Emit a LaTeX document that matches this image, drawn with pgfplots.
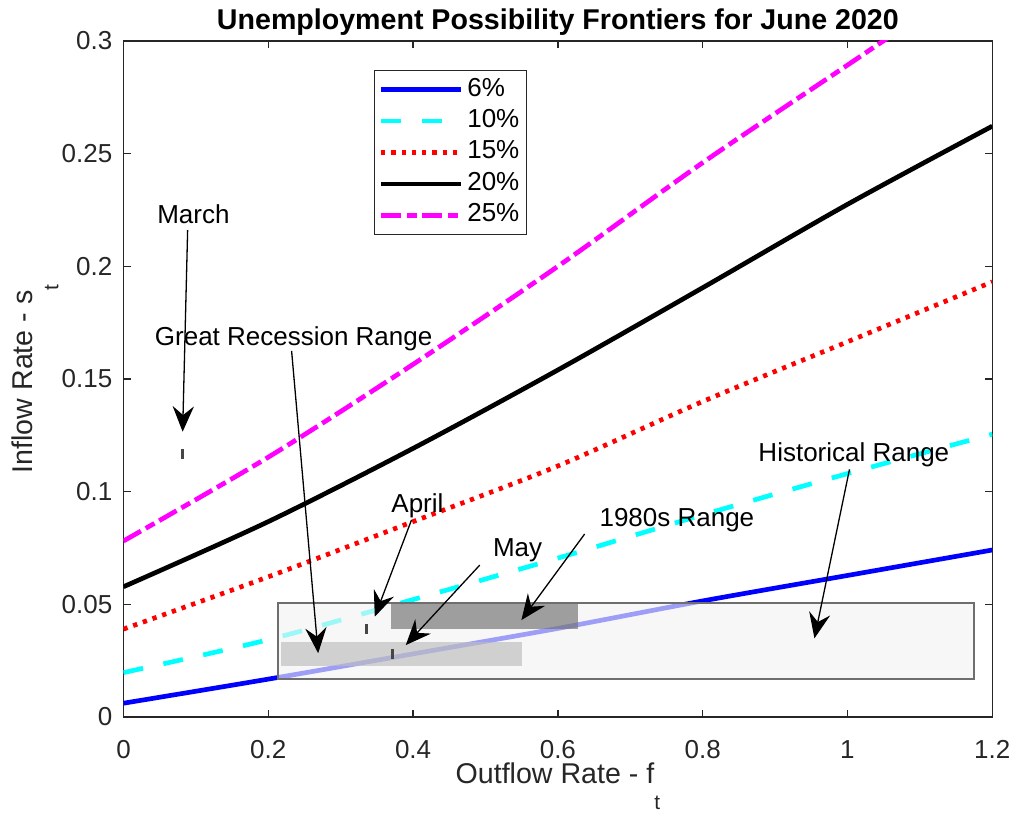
\documentclass[border=0pt]{standalone}
\usepackage{fontspec}
\setmainfont{Liberation Sans}
\usepackage{pgfplots}
\pgfplotsset{compat=1.18}
\usetikzlibrary{arrows.meta}

\definecolor{axgray}{RGB}{38,38,38}
\definecolor{lblue}{RGB}{0,0,255}
\definecolor{lcyan}{RGB}{0,255,255}
\definecolor{lred}{RGB}{255,0,0}
\definecolor{lmagenta}{RGB}{255,0,255}
\definecolor{histfill}{RGB}{243,243,243}
\definecolor{grfill}{RGB}{189,189,189}
\definecolor{eightyfill}{RGB}{112,112,112}
\definecolor{histedge}{RGB}{110,110,110}
\definecolor{monthmark}{RGB}{70,70,70}

\newcommand{\sub}[1]{\raisebox{-10pt}{\fontsize{8}{9}\selectfont #1}}

\begin{document}
\begin{tikzpicture}
% figure frame: the axis box runs from (0,0) to (334.15pt,260pt)
\useasboundingbox (-47.5pt,-36.92pt) rectangle (342.9pt,275.77pt);
\begin{axis}[
  at={(0,0)}, anchor=south west,
  scale only axis, width=334.15pt, height=260pt,
  xmin=0, xmax=1.2, ymin=0, ymax=0.3,
  xtick={0,0.2,0.4,0.6,0.8,1,1.2},
  xticklabels={0,0.2,0.4,0.6,0.8,1,1.2},
  ytick={0,0.05,0.1,0.15,0.2,0.25,0.3},
  yticklabels={0,0.05,0.1,0.15,0.2,0.25,0.3},
  tick align=inside, xtick pos=both, ytick pos=both, major tick length=2.7pt,
  xticklabel pos=bottom, yticklabel pos=left,
  axis line style={axgray, line width=0.5pt},
  every tick/.style={axgray, line width=0.5pt},
  tick label style={font=\fontsize{10}{12}\selectfont, text=axgray},
  xticklabel style={yshift=-5.6pt},
  yticklabel style={xshift=-0.8pt},
  every axis title shift=0pt,
  title={Unemployment Possibility Frontiers for June 2020},
  title style={font=\fontsize{11}{13}\selectfont\bfseries, inner sep=0pt,
    at={([yshift=4.6pt]axis description cs:0.5,1)}, anchor=base},
  xlabel={Outflow Rate - f\sub{t}},
  xlabel style={font=\fontsize{11}{13}\selectfont, text=axgray, inner sep=0pt,
    at={([yshift=-25.5pt]axis description cs:0.5,0)}, anchor=base},
  ylabel={Inflow Rate - s\sub{t}},
  ylabel style={font=\fontsize{11}{13}\selectfont, text=axgray, inner sep=0pt,
    at={([xshift=-35pt]axis description cs:0,0.5)}, anchor=base},
  legend style={at={(0.2883,0.957)}, anchor=north west, draw=axgray,
    line width=0.5pt, fill=white, font=\fontsize{10}{12}\selectfont,
    inner xsep=1.55pt, inner ysep=1.25pt, row sep=0pt,
    nodes={inner sep=1.3pt, text height=7.2pt, text depth=2.3pt},
    /tikz/every odd column/.append style={column sep=0.2pt}},
  legend cell align=left,
  legend image code/.code={\draw[#1] (0pt,0pt) -- (30.8pt,0pt);},
]
% frontier for each target unemployment rate
\addplot[lblue, line width=1.8pt, smooth] coordinates {
  (0,0.0061) (0.2,0.0168) (0.4,0.0280) (0.6,0.0393) (0.8,0.0515) (1.0,0.0628) (1.2,0.0741)};
\addlegendentry{6\%}
\addplot[lcyan, line width=1.8pt, smooth, dash pattern=on 7.7pt off 8pt] coordinates {
  (0,0.0197) (0.2,0.0343) (0.4,0.0521) (0.6,0.0705) (0.8,0.0897) (1.0,0.1080) (1.2,0.1255)};
\addlegendentry{10\%}
\addplot[lred, line width=1.8pt, smooth, dash pattern=on 1.65pt off 2.3pt] coordinates {
  (0,0.0390) (0.2,0.0622) (0.4,0.0867) (0.6,0.1114) (0.8,0.1400) (1.0,0.1665) (1.2,0.1931)};
\addlegendentry{15\%}
\addplot[black, line width=1.8pt, smooth] coordinates {
  (0,0.0578) (0.2,0.0867) (0.4,0.1192) (0.6,0.1540) (0.8,0.1905) (1.0,0.2275) (1.2,0.2622)};
\addlegendentry{20\%}
\addplot[lmagenta, line width=1.8pt, smooth, dash pattern=on 7.7pt off 2.15pt on 3.85pt off 2.1pt] coordinates {
  (0,0.0781) (0.2,0.1153) (0.4,0.1565) (0.6,0.2000) (0.8,0.2460) (1.0,0.2893) (1.1,0.3110)};
\addlegendentry{25\%}

% ranges of flows
\addplot[forget plot, fill=histfill, fill opacity=0.65, draw=histedge, line width=0.8pt]
  coordinates {(0.2137,0.0169) (1.1744,0.0169) (1.1744,0.0507) (0.2137,0.0507)} -- cycle;
\addplot[forget plot, fill=grfill, fill opacity=0.65, draw=none]
  coordinates {(0.217,0.0228) (0.5505,0.0228) (0.5505,0.0334) (0.217,0.0334)} -- cycle;
\addplot[forget plot, fill=eightyfill, fill opacity=0.65, draw=none]
  coordinates {(0.370,0.0389) (0.6277,0.0389) (0.6277,0.0504) (0.370,0.0504)} -- cycle;

% March, April and May 2020
\addplot[forget plot, only marks, mark=|, mark size=1.9pt,
  mark options={draw=monthmark, line width=1pt}]
  coordinates {(0.0817,0.1167) (0.3357,0.0389) (0.3715,0.02795)};

% annotations
\begin{scope}[every node/.style={font=\fontsize{10}{12}\selectfont, inner sep=0pt, anchor=base west},
  every path/.style={line width=0.5pt},
  >={Stealth[length=9.8pt, width=8.2pt, inset=3.4pt]}]
\node at (axis cs:0.0458,0.2192) {March};
\node at (axis cs:0.0425,0.1650) {Great Recession Range};
\node at (axis cs:0.3692,0.0906) {April};
\node at (axis cs:0.5096,0.0711) {May};
\node at (axis cs:0.6567,0.0844) {1980s Range};
\node at (axis cs:0.8762,0.1136) {Historical Range};
\draw[->] (axis cs:0.0886,0.2161) -- (axis cs:0.0817,0.1266);
\draw[->] (axis cs:0.2322,0.1625) -- (axis cs:0.2689,0.0283);
\draw[->] (axis cs:0.3978,0.0874) -- (axis cs:0.3471,0.0445);
\draw[->] (axis cs:0.4921,0.0674) -- (axis cs:0.3899,0.0319);
\draw[->] (axis cs:0.6370,0.0812) -- (axis cs:0.5496,0.0430);
\draw[->] (axis cs:1.0028,0.1099) -- (axis cs:0.9544,0.0349);
\end{scope}
\end{axis}
\end{tikzpicture}
\end{document}
